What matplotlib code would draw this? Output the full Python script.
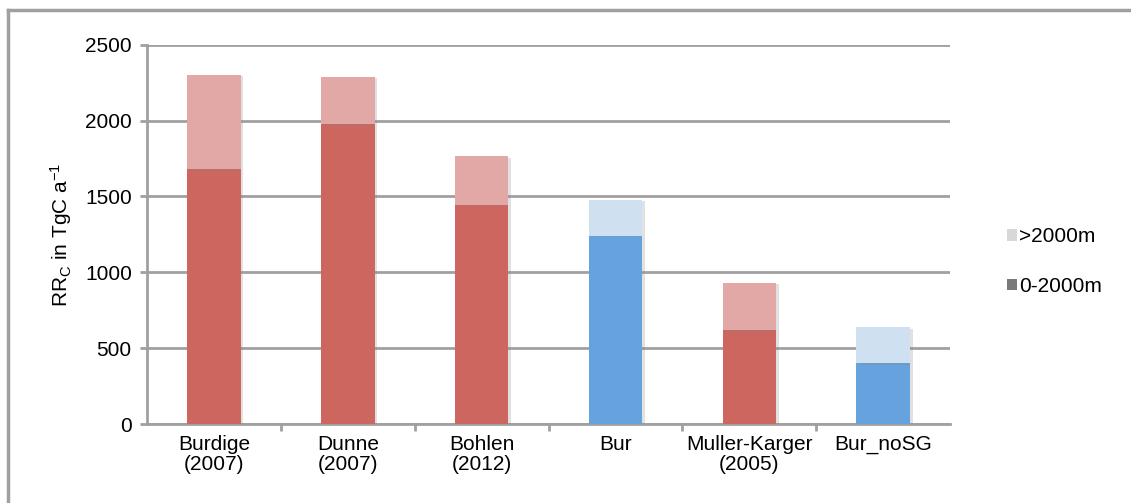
import numpy as np
import matplotlib.pyplot as plt
from matplotlib.patches import Patch
from matplotlib.lines import Line2D
import matplotlib.patheffects as pe

plt.rcParams['font.family'] = ['Liberation Sans', 'DejaVu Sans']
plt.rcParams['mathtext.default'] = 'regular'

# data (TgC per year)
studies = ['Burdige\n(2007)', 'Dunne\n(2007)', 'Bohlen\n(2012)', 'Bur',
           'Muller-Karger\n(2005)', 'Bur_noSG']
shallow = [1680, 1975, 1445, 1240, 618, 400]      # 0-2000m
total = [2300, 2290, 1765, 1478, 929, 638]        # 0-2000m + >2000m
is_ours = [False, False, False, True, False, True]

deep = np.array(total) - np.array(shallow)

red_dark, red_light = '#CC665F', '#E2A8A6'
blue_dark, blue_light = '#66A2DD', '#CFE0F1'
gray = '#A0A0A0'
fs = 15

fig = plt.figure(figsize=(11.31, 5.03), dpi=100)
ax = fig.add_axes([0.130, 0.157, 0.710, 0.754])

x = np.arange(len(studies))
c_dark = [blue_dark if o else red_dark for o in is_ours]
c_light = [blue_light if o else red_light for o in is_ours]
shadow = [pe.SimplePatchShadow(offset=(2, -1), shadow_rgbFace='#888888', alpha=0.25), pe.Normal()]

b1 = ax.bar(x, shallow, width=0.4, color=c_dark, zorder=3)
b2 = ax.bar(x, deep, bottom=shallow, width=0.4, color=c_light, zorder=3)
for r in list(b1) + list(b2):
    r.set_path_effects(shadow)

ax.set_xlim(-0.5, len(studies) - 0.5)
ax.set_ylim(0, 2500)
ax.set_yticks(np.arange(0, 2501, 500))
ax.yaxis.grid(True, color=gray, linewidth=2, zorder=0)
ax.set_axisbelow(True)

ax.set_xticks(x)
ax.set_xticklabels(studies, fontsize=fs, linespacing=1.05)
ax.set_xticks(np.arange(0.5, len(studies) - 0.5), minor=True)
ax.tick_params(axis='x', which='major', length=0, pad=8)
ax.tick_params(axis='x', which='minor', length=5, width=2, color=gray)
ax.tick_params(axis='y', length=5, width=2, color=gray, labelsize=fs, pad=6)

for s in ['top', 'right']:
    ax.spines[s].set_visible(False)
for s in ['left', 'bottom']:
    ax.spines[s].set_color(gray)
    ax.spines[s].set_linewidth(2)

ax.set_ylabel('RR$_C$ in TgC a$^{-1}$', fontsize=fs, labelpad=8)

handles = [Patch(facecolor='#D8D8D8', edgecolor='none'),
           Patch(facecolor='#7A7A7A', edgecolor='none')]
fig.legend(handles, ['>2000m', '0-2000m'], loc='center left',
           bbox_to_anchor=(0.874, 0.48), frameon=False, fontsize=fs,
           handlelength=0.45, handleheight=0.45, handletextpad=0.1,
           labelspacing=1.45)

# outer chart frame (only top and left edges fall inside the image)
fig.add_artist(Line2D([8 / 1131, 8 / 1131], [0, 1 - 10 / 503], color=gray, linewidth=2.5))
fig.add_artist(Line2D([8 / 1131, 1], [1 - 10 / 503, 1 - 10 / 503], color=gray, linewidth=2.5))

fig.savefig('out.png', dpi=100)
